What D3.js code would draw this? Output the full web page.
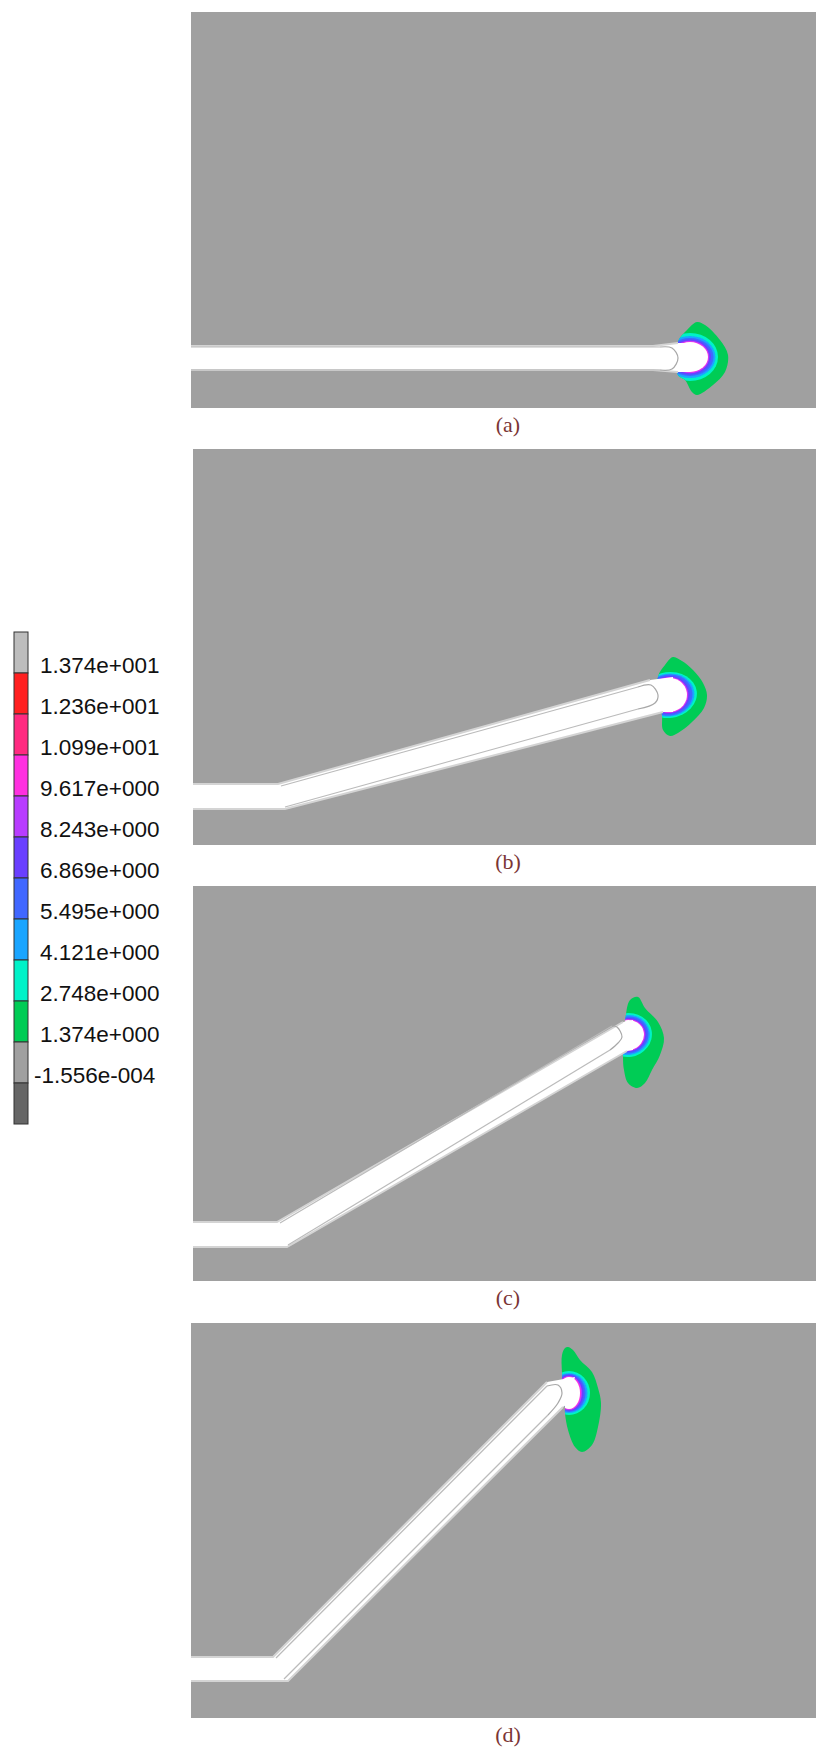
<!DOCTYPE html>
<html>
<head>
<meta charset="utf-8">
<script src="https://cdn.jsdelivr.net/npm/d3@7"></script>
<style>
  body { margin: 0; background: #fff; }
  svg { display: block; }
</style>
</head>
<body>
<div id="chart"></div>
<script>
// Legend
const legendLabels = ['1.374e+001', '1.236e+001', '1.099e+001', '9.617e+000', '8.243e+000', '6.869e+000',
  '5.495e+000', '4.121e+000', '2.748e+000', '1.374e+000', '-1.556e-004'];
const legendColors = ['#bdbdbd', '#ff2020', '#ff2a80', '#ff30e0', '#b83cff', '#6a3fff',
  '#4067ff', '#1aa5ff', '#00f2c8', '#00cc55', '#a0a0a0', '#666666'];

// Panels, all geometry in panel units (one unit is one reference pixel)
const panelNames = ['(a)', '(b)', '(c)', '(d)'];
const panelLeft = [191, 193, 193, 191];
const panelTop = [12, 449, 886, 1323];
const panelWidth = [625, 623, 623, 625];
const panelHeight = [396, 396, 395, 395];

const tubeUpper = [
  [[0, 334], [462, 334], [487, 331], [499, 331]],
  [[0, 335], [85, 335], [457, 231], [480, 228]],
  [[0, 336], [84, 336], [430, 136], [440, 134]],
  [[0, 334], [82, 334], [356, 59], [384, 54]]
];
const tubeLower = [
  [[499, 360], [487, 360], [462, 358], [0, 358]],
  [[480, 263], [470, 263], [92, 360], [0, 360]],
  [[440, 164], [434, 165], [94, 361], [0, 361]],
  [[375, 82], [372, 84], [97, 358], [0, 358]]
];

// Inner outline: straight runs from the kink, rounded at the far end
const runStartUpper = [[0, 335], [88, 337], [87, 337], [85, 335]];
const runStartLower = [[0, 358], [92, 358], [95, 359], [93, 356]];
const capsuleEnd = [
  [[469, 335], [481, 336], [487, 346], [481, 357], [469, 358]],
  [[445, 238], [458, 236], [465, 246], [462, 254], [445, 260]],
  [[419, 140], [424, 141], [429, 151], [425, 157], [417, 164]],
  [[356, 63], [367, 62], [371, 70], [367, 80], [357, 92]]
];

const greenBlob = [
  [[506, 310], [514, 313], [529, 328], [537, 343], [534, 360], [522, 373], [506, 383], [501, 380], [494, 368], [487, 363], [487, 330], [496, 318]],
  [[480, 208], [489, 212], [500, 221], [510, 234], [514, 246], [511, 259], [499, 273], [485, 284], [477, 287], [470, 281], [469, 266], [465, 228], [472, 216]],
  [[437, 114], [445, 111], [452, 122], [465, 136], [471, 152], [467, 169], [459, 184], [452, 197], [444, 202], [435, 197], [431, 184], [430, 171], [432, 137]],
  [[377, 24], [382, 27], [389, 37], [401, 49], [407, 65], [410, 80], [407, 104], [401, 122], [391, 129], [384, 124], [377, 107], [374, 90], [374, 84], [371, 50], [371, 32], [374, 25]]
];

const tipCenter = [[499, 345], [476, 246], [435, 149], [378, 70]];
const tipAngle = [0, -8, -10, 0];
const bandColors = ['#00f2c8', '#1aa5ff', '#4067ff', '#6a3fff', '#b83cff', '#ff30e0', '#ffffff'];
const bandRx = [
  [28, 25.5, 23.5, 21, 19.3, 18.5, 18],
  [28, 25.5, 23.5, 21, 19.3, 18.5, 18],
  [24, 22, 20.5, 18.5, 17.3, 16.5, 16],
  [21, 18.5, 16.5, 14.5, 13, 12, 11]
];
const bandRy = [
  [24, 21, 19, 17.5, 16.2, 15.5, 15],
  [23, 21.5, 20.5, 19, 18, 17.5, 17],
  [22, 20, 18.5, 17, 16, 15.5, 15],
  [22, 20, 19, 18, 17, 16.5, 16]
];

const svg = d3.select('#chart')
  .append('svg')
    .attr('width', 816)
    .attr('height', 1750);

// The reference is a soft jpeg, take the edge off the shapes
svg.append('defs')
  .append('filter')
    .attr('id', 'soft')
  .append('feGaussianBlur')
    .attr('stdDeviation', 0.7);

// Legend colour bar
const legendY = d3.scaleBand()
  .domain(d3.range(legendColors.length))
  .range([632, 1124]);

const legendBar = svg.append('g');
legendBar.selectAll('rect')
  .data(legendColors)
  .enter()
  .append('rect')
    .attr('x', 14)
    .attr('y', function (d, i) { return legendY(i); })
    .attr('width', 14)
    .attr('height', legendY.bandwidth())
    .attr('fill', function (d) { return d; })
    .attr('stroke', '#333')
    .attr('stroke-width', 1);

legendBar.selectAll('text')
  .data(legendLabels)
  .enter()
  .append('text')
    .attr('x', function (d) { return d[0] === '-' ? 34 : 40; })
    .attr('y', function (d, i) { return legendY(i) + legendY.bandwidth() / 2 + 20; })
    .attr('font-family', '"Liberation Sans", Arial, sans-serif')
    .attr('font-size', '22.5px')
    .attr('fill', '#111')
    .text(function (d) { return d; });

panelNames.forEach(function (name, p) {
  const X = d3.scaleLinear().domain([0, panelWidth[p]]).range([panelLeft[p], panelLeft[p] + panelWidth[p]]);
  const Y = d3.scaleLinear().domain([0, panelHeight[p]]).range([panelTop[p], panelTop[p] + panelHeight[p]]);
  const line = d3.line().x(function (d) { return X(d[0]); }).y(function (d) { return Y(d[1]); });

  const g = svg.append('g').attr('class', 'panel');

  // Background
  g.append('rect')
    .attr('x', X(0))
    .attr('y', Y(0))
    .attr('width', panelWidth[p])
    .attr('height', panelHeight[p])
    .attr('fill', '#a0a0a0');

  const soft = g.append('g').attr('filter', 'url(#soft)');

  // Outer contour
  const outer = line.curve(d3.curveCatmullRomClosed)(greenBlob[p]);
  soft.append('path')
    .attr('d', outer)
    .attr('fill', '#00cc55');
  svg.select('defs').append('clipPath')
    .attr('id', 'blob' + p)
    .append('path')
      .attr('d', outer);

  // Inner contour bands, they never leave the outer one
  const tip = soft.append('g')
    .attr('clip-path', 'url(#blob' + p + ')')
    .append('g')
    .attr('transform', 'translate(' + X(tipCenter[p][0]) + ',' + Y(tipCenter[p][1]) + ') rotate(' + tipAngle[p] + ')');
  tip.selectAll('ellipse')
    .data(bandColors)
    .enter()
    .append('ellipse')
      .attr('rx', function (d, i) { return bandRx[p][i]; })
      .attr('ry', function (d, i) { return bandRy[p][i]; })
      .attr('fill', function (d) { return d; });

  // Tube, the light edge stops where the rounded end starts
  soft.append('path')
    .attr('d', line.curve(d3.curveLinear)(tubeUpper[p].concat(tubeLower[p])))
    .attr('fill', '#fff');
  [tubeUpper[p].slice(0, -1), tubeLower[p].slice(1)].forEach(function (edge) {
    soft.append('path')
      .attr('d', line.curve(d3.curveLinear)(edge))
      .attr('fill', 'none')
      .attr('stroke', '#d4d4d4')
      .attr('stroke-width', 2);
  });

  // Inner outline
  const end = capsuleEnd[p];
  [[runStartUpper[p], end[0]], [runStartLower[p], end[end.length - 1]]].forEach(function (run) {
    soft.append('path')
      .attr('d', line.curve(d3.curveLinear)(run))
      .attr('fill', 'none')
      .attr('stroke', '#bbb')
      .attr('stroke-width', 1.2);
  });
  soft.append('path')
    .attr('d', line.curve(d3.curveCatmullRom)(end))
    .attr('fill', 'none')
    .attr('stroke', '#a8a8a8')
    .attr('stroke-width', 1.2);

  // Caption
  svg.append('text')
    .attr('x', 508)
    .attr('y', Y(panelHeight[p]) + 24)
    .attr('text-anchor', 'middle')
    .attr('font-family', '"Liberation Serif", serif')
    .attr('font-size', '22px')
    .attr('fill', '#7b3535')
    .text(name);
});
</script>
</body>
</html>
